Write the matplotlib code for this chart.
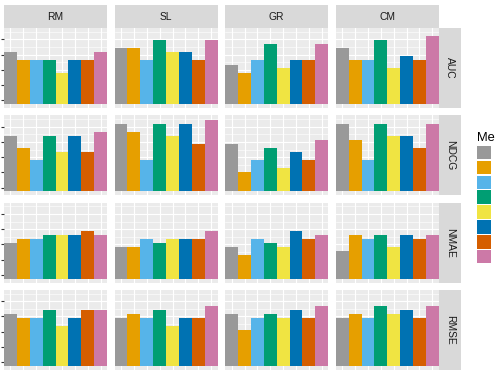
import matplotlib
matplotlib.use("Agg")
import matplotlib.pyplot as plt
from matplotlib.patches import Rectangle

plt.rcParams['font.family'] = ['Liberation Sans', 'DejaVu Sans']

# ---- data (values in y-axis tick units; tick labels lie outside the cropped reference) ----
contexts = ["RM", "SL", "GR", "CM"]
metrics = ["AUC", "NDCG", "NMAE", "RMSE"]
methods = ["coclustering", "kNN", "kNN-means", "kNN-zscore", "slope-one", "svd", "svd++", "sgd"]
colors = ["#999999", "#E69F00", "#56B4E9", "#009E73", "#F0E442", "#0072B2", "#D55E00", "#CC79A7"]

auc = [[3.17, 2.63, 2.63, 2.63, 1.81, 2.63, 2.63, 3.17],
       [3.42, 3.42, 2.63, 3.96, 3.17, 3.17, 2.63, 3.96],
       [2.33, 1.81, 2.63, 3.69, 2.10, 2.63, 2.63, 3.69],
       [3.42, 2.63, 2.63, 3.96, 2.10, 2.90, 2.63, 4.23]]
ndcg = [[3.40, 2.60, 1.82, 3.40, 2.36, 3.40, 2.36, 3.65],
        [4.21, 3.65, 1.84, 4.21, 3.40, 4.21, 2.87, 4.46],
        [2.87, 1.06, 1.82, 2.60, 1.28, 2.36, 1.82, 3.14],
        [4.17, 3.14, 1.82, 4.17, 3.40, 3.40, 2.60, 4.17]]
nmae = [[2.09, 2.36, 2.36, 2.60, 2.60, 2.60, 2.87, 2.60],
        [1.83, 1.83, 2.36, 2.09, 2.36, 2.36, 2.36, 2.87],
        [1.83, 1.31, 2.36, 2.09, 1.83, 2.87, 2.36, 2.60],
        [1.58, 2.60, 2.36, 2.60, 1.83, 2.60, 2.36, 2.60]]
rmse = [[3.17, 2.90, 2.90, 3.44, 2.38, 2.90, 3.44, 3.44],
        [2.90, 3.17, 2.90, 3.44, 2.38, 2.90, 2.90, 3.68],
        [3.17, 2.13, 2.90, 3.17, 2.90, 3.44, 2.90, 3.68],
        [2.90, 3.17, 2.90, 3.68, 3.17, 3.44, 2.90, 3.68]]
data = [auc, ndcg, nmae, rmse]
yticks = [0, 1, 2, 3, 4]
ylim = (-0.25, 4.75)

# ---- layout ----
W, H = 495, 376
fig = plt.figure(figsize=(W / 100, H / 100), dpi=100)
fig.patch.set_facecolor("white")

def fx(px):
    return px / W

def fy(py):
    return 1 - py / H

col_left = [4 + k * 110.6 for k in range(4)]
pw = 103
row_top = [28, 115.3, 202.5, 289.7]
ph = 80
strip_h = 23
strip_w = 22.7
fs_strip = 7.4
txt = "#1A1A1A"

xs = list(range(1, len(methods) + 1))
minor = [t + 0.5 for t in [-1] + yticks]

for i, metric in enumerate(metrics):
    for j, ctx in enumerate(contexts):
        ax = fig.add_axes([fx(col_left[j]), fy(row_top[i] + ph), pw / W, ph / H])
        ax.set_facecolor("#EBEBEB")
        vals = data[i][j]
        ax.bar(xs, [v - ylim[0] for v in vals], bottom=ylim[0], width=1.0,
               color=colors, zorder=3, linewidth=0)
        ax.set_xlim(0.5, len(methods) + 0.5)
        ax.set_ylim(*ylim)
        ax.set_xticks(xs)
        ax.set_yticks(yticks)
        ax.set_yticks(minor, minor=True)
        ax.grid(which="major", color="white", linewidth=0.8)
        ax.grid(which="minor", axis="y", color="white", linewidth=0.4)
        ax.set_axisbelow(True)
        for s in ax.spines.values():
            s.set_visible(False)
        ax.tick_params(axis="x", which="both", length=0, labelbottom=False)
        ax.tick_params(axis="y", which="minor", length=0)
        if j == 0:
            ax.tick_params(axis="y", which="major", length=2.3, width=0.8,
                           color="#333333", labelleft=False)
        else:
            ax.tick_params(axis="y", which="major", length=0, labelleft=False)

# top strips
for j, ctx in enumerate(contexts):
    fig.add_artist(Rectangle((fx(col_left[j]), fy(row_top[0])), pw / W, strip_h / H,
                             transform=fig.transFigure, facecolor="#D9D9D9", edgecolor="none"))
    fig.text(fx(col_left[j] + pw / 2), fy(row_top[0] - strip_h / 2), ctx,
             ha="center", va="center", fontsize=fs_strip, color=txt)

# right strips
sx = col_left[3] + pw
for i, metric in enumerate(metrics):
    fig.add_artist(Rectangle((fx(sx), fy(row_top[i] + ph)), strip_w / W, ph / H,
                             transform=fig.transFigure, facecolor="#D9D9D9", edgecolor="none"))
    fig.text(fx(sx + strip_w / 2), fy(row_top[i] + ph / 2), metric,
             ha="center", va="center", fontsize=fs_strip, color=txt, rotation=-90)

# legend (cut off at the right edge, as in the reference)
lx = 476.7
fig.text(fx(lx), fy(141), "Method", ha="left", va="baseline", fontsize=9.3, color="black")
for k, (m, c) in enumerate(zip(methods, colors)):
    top = 145.7 + 14.9 * k
    fig.add_artist(Rectangle((fx(lx), fy(top + 13.4)), 14.3 / W, 13.4 / H,
                             transform=fig.transFigure, facecolor=c, edgecolor="none"))
    fig.text(fx(494.3), fy(top + 6.7), m, ha="left", va="center", fontsize=7.4, color=txt)

fig.savefig("out.png", dpi=100)
